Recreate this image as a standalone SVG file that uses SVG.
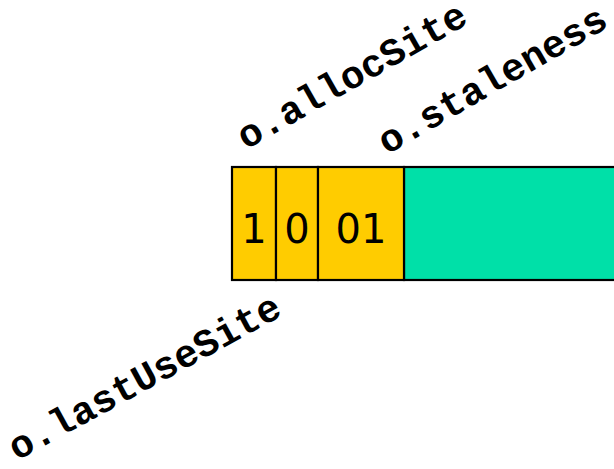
<svg xmlns="http://www.w3.org/2000/svg" width="614" height="469" viewBox="0 0 614 469">
  <style>
    .field { fill: #FFCC00; stroke: #000; stroke-width: 2.2; }
    .rest { fill: #00E0A8; stroke: #000; stroke-width: 2.2; }
    .bits { font-family: "DejaVu Sans", "Noto Sans", sans-serif; font-size: 40px; fill: #000; text-anchor: middle; }
    .label { font-family: "Liberation Mono", "Courier New", monospace; font-weight: bold; font-size: 39px; fill: #000; }
  </style>
  <rect width="614" height="469" fill="#fff"/>
  <g id="header">
    <rect class="rest" x="404" y="167" width="220" height="113"/>
    <g id="lastUseSite-bit">
      <rect class="field" x="232" y="167" width="44" height="113"/>
      <text class="bits" x="254" y="243">1</text>
    </g>
    <g id="allocSite-bit">
      <rect class="field" x="276" y="167" width="42" height="113"/>
      <text class="bits" x="297" y="243">0</text>
    </g>
    <g id="staleness-bits">
      <rect class="field" x="318" y="167" width="86" height="113"/>
      <text class="bits" x="361" y="243">01</text>
    </g>
  </g>
  <g id="labels">
    <text class="label" transform="translate(246,150) rotate(-29.6)">o.allocSite</text>
    <text class="label" transform="translate(387,155) rotate(-30)">o.staleness</text>
    <text class="label" transform="translate(17,461) rotate(-28.7)">o.lastUseSite</text>
  </g>
</svg>
